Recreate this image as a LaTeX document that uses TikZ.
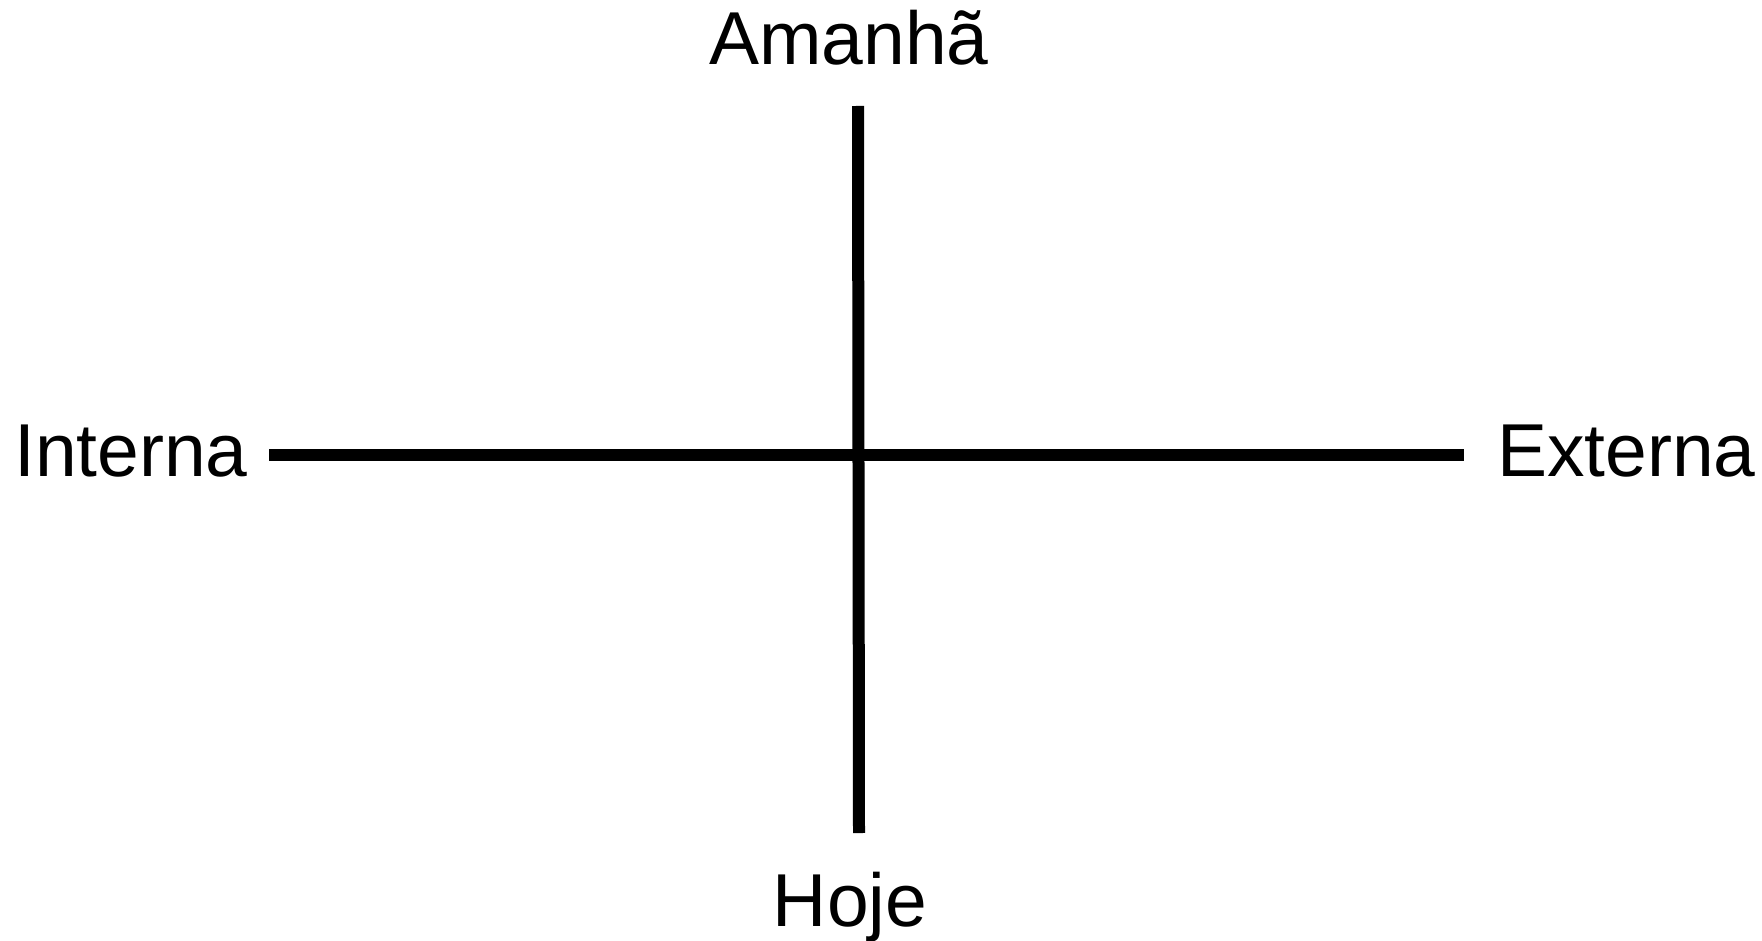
\documentclass[tikz,border=0pt]{standalone}
\usepackage{fontspec}
\setmainfont{Liberation Sans}
\begin{document}
\begin{tikzpicture}[x=1pt,y=-1pt,
  lbl/.style={inner sep=0pt,font=\fontsize{75}{90}\selectfont},
  axis/.style={line width=12pt,line cap=butt,black}]
\useasboundingbox (0,0) rectangle (1762,941);
\coordinate (top) at (858,106);
\coordinate (bot) at (859,833);
\coordinate (lft) at (269,455);
\coordinate (rgt) at (1464,455);
\draw[axis] (top) -- (bot);
\draw[axis] (lft) -- (rgt);
\node[lbl,anchor=base] (am) at (849,65) {Amanhã};
\node[lbl,anchor=base] (ho) at (850,926) {Hoje};
\node[lbl,anchor=base west] (in) at (14,476) {Interna};
\node[lbl,anchor=base west] (ex) at (1497,476) {Externa};
\end{tikzpicture}
\end{document}
